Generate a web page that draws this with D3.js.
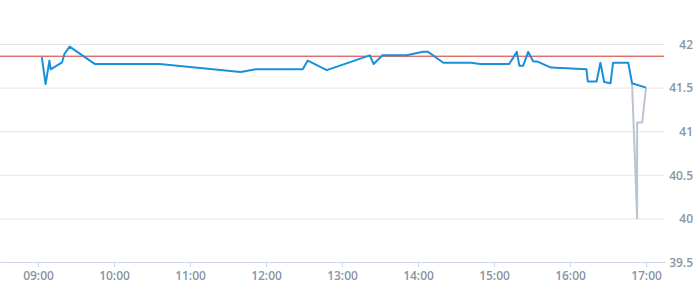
<!DOCTYPE html>
<html>
<head>
<meta charset="utf-8">
<script src="https://cdn.jsdelivr.net/npm/d3@7"></script>
<style>
  html, body { margin: 0; padding: 0; background: #fff; }
  .axis text { font-family: "Open Sans", sans-serif; font-size: 12px; font-weight: 600; fill: #8995a2; }
</style>
</head>
<body>
<div id="chart"></div>
<script>
// price series (blue)
const priceTimes = ['09:03', '09:06', '09:09', '09:10', '09:19', '09:21', '09:25', '09:45', '10:36', '11:40',
  '11:52', '12:29', '12:33', '12:48', '13:22', '13:25', '13:32', '13:51', '14:04', '14:08',
  '14:20', '14:42', '14:49', '15:12', '15:18', '15:20', '15:23', '15:27', '15:31', '15:34',
  '15:45', '16:13', '16:14', '16:21', '16:24', '16:27', '16:32', '16:34', '16:46', '16:49', '17:00'];
const priceValues = [41.85, 41.54, 41.81, 41.71, 41.79, 41.89, 41.97, 41.77, 41.77, 41.68,
  41.71, 41.71, 41.81, 41.70, 41.87, 41.77, 41.87, 41.87, 41.91, 41.91,
  41.785, 41.785, 41.77, 41.77, 41.91, 41.75, 41.75, 41.91, 41.80, 41.80,
  41.73, 41.71, 41.57, 41.57, 41.785, 41.565, 41.55, 41.785, 41.785, 41.55, 41.50];

// closing auction series (grey)
const auctionTimes = ['16:49', '16:53', '16:53', '16:57', '17:00'];
const auctionValues = [41.55, 40.00, 41.10, 41.10, 41.50];

// reference level (red)
const refValue = 41.86;

const yTicks = [39.5, 40, 40.5, 41, 41.5, 42];
const xTicks = ['09:00', '10:00', '11:00', '12:00', '13:00', '14:00', '15:00', '16:00', '17:00'];

const w = 695;
const h = 300;
const plotRight = 664;
const plotTop = 44;
const plotBottom = 262;

const parse = d3.timeParse('%H:%M');

const svg = d3.select('#chart')
              .append('svg')
              .attr('width', w)
              .attr('height', h);

const xScale = d3.scaleTime()
                 .domain([parse('08:30'), parse('17:15')])
                 .range([0, 665]);

const yScale = d3.scaleLinear()
                 .domain([39.5, 42])
                 .range([plotBottom, plotTop]);

// horizontal grid + right labels
const yAxis = d3.axisRight(yScale)
                .tickValues(yTicks)
                .tickSize(plotRight)
                .tickFormat(d => d3.format('')(d));

const yg = svg.append('g')
              .attr('class', 'axis')
              .call(yAxis);
yg.select('.domain').remove();
yg.selectAll('line').attr('stroke', '#e6e6e6');
yg.selectAll('text')
  .attr('x', 693)
  .attr('text-anchor', 'end')
  .attr('dy', '0.35em');

const xAxis = d3.axisBottom(xScale)
                .tickValues(xTicks.map(parse))
                .tickSize(5)
                .tickSizeOuter(0)
                .tickPadding(4)
                .tickFormat(d3.timeFormat('%H:%M'));

const xg = svg.append('g')
              .attr('class', 'axis')
              .attr('transform', `translate(0, ${plotBottom})`)
              .call(xAxis);
xg.select('.domain').attr('stroke', '#ccd6eb');
xg.selectAll('line').attr('stroke', '#ccd6eb');

// reference line
svg.append('line')
   .attr('x1', 0)
   .attr('x2', plotRight)
   .attr('y1', yScale(refValue))
   .attr('y2', yScale(refValue))
   .attr('stroke', '#d2342f')
   .attr('stroke-width', 1);

const line = d3.line()
               .x(d => xScale(parse(d[0])))
               .y(d => yScale(d[1]));

svg.append('path')
   .datum(auctionTimes.map((t, i) => [t, auctionValues[i]]))
   .attr('fill', 'none')
   .attr('stroke', '#b9c5d0')
   .attr('stroke-width', 2)
   .attr('stroke-linejoin', 'round')
   .attr('d', line);

svg.append('path')
   .datum(priceTimes.map((t, i) => [t, priceValues[i]]))
   .attr('fill', 'none')
   .attr('stroke', '#1a90d9')
   .attr('stroke-width', 2)
   .attr('stroke-linejoin', 'round')
   .attr('d', line);
</script>
</body>
</html>
